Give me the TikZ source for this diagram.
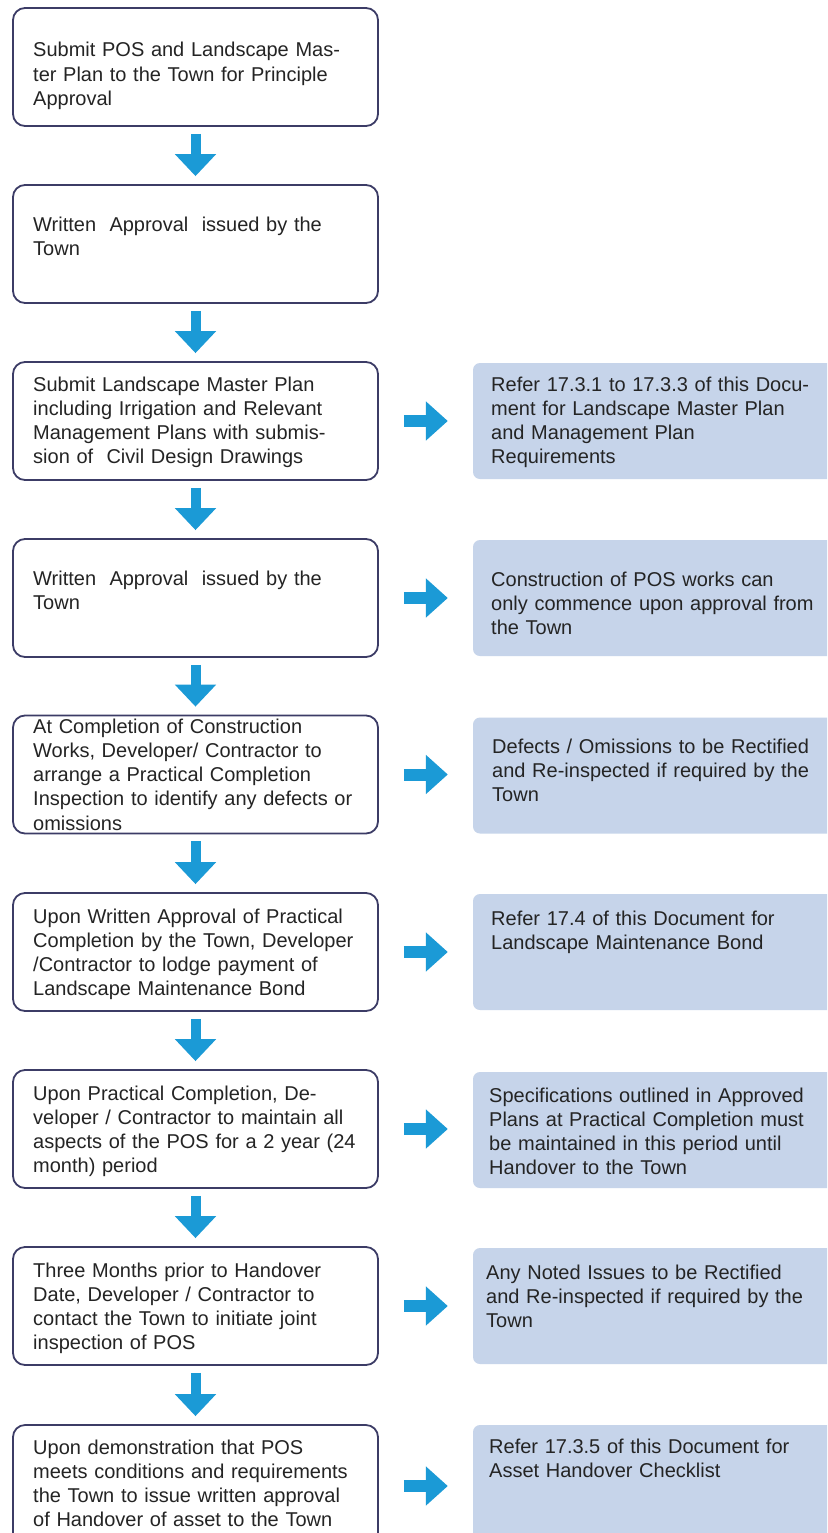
\documentclass[tikz,border=0pt]{standalone}
\usepackage{fontspec}
\setmainfont{Liberation Sans}
\usetikzlibrary{arrows.meta}
\definecolor{navy}{HTML}{3C3C66}
\definecolor{arrowblue}{HTML}{1B9AD6}
\definecolor{notefill}{HTML}{C6D4EA}
\definecolor{txt}{HTML}{242424}
\begin{document}
\begin{tikzpicture}[x=1pt,y=-1pt,
  lbox/.style={draw=navy, line width=1.8pt, rounded corners=12pt, minimum width=365pt, minimum height=118pt, inner sep=0pt},
  rbox/.style={fill=notefill, rounded corners=7pt, minimum width=370pt, minimum height=116pt, inner sep=0pt},
  txtnode/.style={anchor=base west, inner sep=0pt, text width=380pt, align=left, text=txt, font=\fontsize{20}{24.3}\selectfont},
  downarrow/.style={draw=arrowblue, line width=10pt, -{Triangle[width=40pt,length=22pt]}, shorten <=7pt, shorten >=8pt},
  rightarrow/.style={draw=arrowblue, line width=12pt, -{Triangle[width=38pt,length=22pt]}, shorten <=25pt, shorten >=25pt}]
\useasboundingbox (0,0) rectangle (827,1533);
\clip (0,0) rectangle (827,1533);
\fill[white] (0,0) rectangle (827,1533);

% left boxes
\node[lbox] (b1) at (195.5,67) {};
\node[lbox] (b2) at (195.5,244) {};
\node[lbox] (b3) at (195.5,421) {};
\node[lbox] (b4) at (195.5,598) {};
\node[lbox] (b5) at (195.5,774.5) {};
\node[lbox] (b6) at (195.5,952) {};
\node[lbox] (b7) at (195.5,1129) {};
\node[lbox] (b8) at (195.5,1306) {};
\node[lbox, minimum height=122pt] (b9) at (195.5,1486) {};

% right boxes
\node[rbox] (r3) at (658,421) {};
\node[rbox] (r4) at (658,598) {};
\node[rbox] (r5) at (658,775.5) {};
\node[rbox] (r6) at (658,952) {};
\node[rbox] (r7) at (658,1130) {};
\node[rbox] (r8) at (658,1306) {};
\node[rbox, minimum height=122pt] (r9) at (658,1486) {};

% texts left
\node[txtnode] (t1) at (33,57) {Submit POS and Landscape Mas-\\ter Plan to the Town for Principle\\Approval};
\node[txtnode] (t2) at (33,231) {Written\ \ Approval\ \ issued by the\\Town};
\node[txtnode] (t3) at (33,391) {Submit Landscape Master Plan\\including Irrigation and Relevant\\Management Plans with submis-\\sion of\ \ Civil Design Drawings};
\node[txtnode] (t4) at (33,585) {Written\ \ Approval\ \ issued by the\\Town};
\node[txtnode] (t5) at (33,733) {At Completion of Construction\\Works, Developer/ Contractor to\\arrange a Practical Completion\\Inspection to identify any defects or\\omissions};
\node[txtnode] (t6) at (33,923) {Upon Written Approval of Practical\\Completion by the Town, Developer\\/Contractor to lodge payment of\\Landscape Maintenance Bond};
\node[txtnode] (t7) at (33,1100) {Upon Practical Completion, De-\\veloper / Contractor to maintain all\\aspects of the POS for a 2 year (24\\month) period};
\node[txtnode] (t8) at (33,1277) {Three Months prior to Handover\\Date, Developer / Contractor to\\contact the Town to initiate joint\\inspection of POS};
\node[txtnode] (t9) at (33,1454) {Upon demonstration that POS\\meets conditions and requirements\\the Town to issue written approval\\of Handover of asset to the Town};

% texts right
\node[txtnode] (n3) at (491,391) {Refer 17.3.1 to 17.3.3 of this Docu-\\ment for Landscape Master Plan\\and Management Plan\\Requirements};
\node[txtnode] (n4) at (491,586) {Construction of POS works can\\only commence upon approval from\\the Town};
\node[txtnode] (n5) at (492,753) {Defects / Omissions to be Rectified\\and Re-inspected if required by the\\Town};
\node[txtnode] (n6) at (491,925) {Refer 17.4 of this Document for\\Landscape Maintenance Bond};
\node[txtnode] (n7) at (489,1102) {Specifications outlined in Approved\\Plans at Practical Completion must\\be maintained in this period until\\Handover to the Town};
\node[txtnode] (n8) at (486,1279) {Any Noted Issues to be Rectified\\and Re-inspected if required by the\\Town};
\node[txtnode] (n9) at (489,1453) {Refer 17.3.5 of this Document for\\Asset Handover Checklist};

% down arrows
\draw[downarrow] (b1.south) -- (b2.north);
\draw[downarrow] (b2.south) -- (b3.north);
\draw[downarrow] (b3.south) -- (b4.north);
\draw[downarrow] (b4.south) -- (b5.north);
\draw[downarrow] (b5.south) -- (b6.north);
\draw[downarrow] (b6.south) -- (b7.north);
\draw[downarrow] (b7.south) -- (b8.north);
\draw[downarrow] (b8.south) -- (b9.north);

% right arrows
\draw[rightarrow] (b3.east) -- (r3.west);
\draw[rightarrow] (b4.east) -- (r4.west);
\draw[rightarrow] (b5.east) -- (b5.east -| r5.west);
\draw[rightarrow] (b6.east) -- (r6.west);
\draw[rightarrow] (b7.east) -- (b7.east -| r7.west);
\draw[rightarrow] (b8.east) -- (r8.west);
\draw[rightarrow] (b9.east) -- (r9.west);
\end{tikzpicture}
\end{document}
